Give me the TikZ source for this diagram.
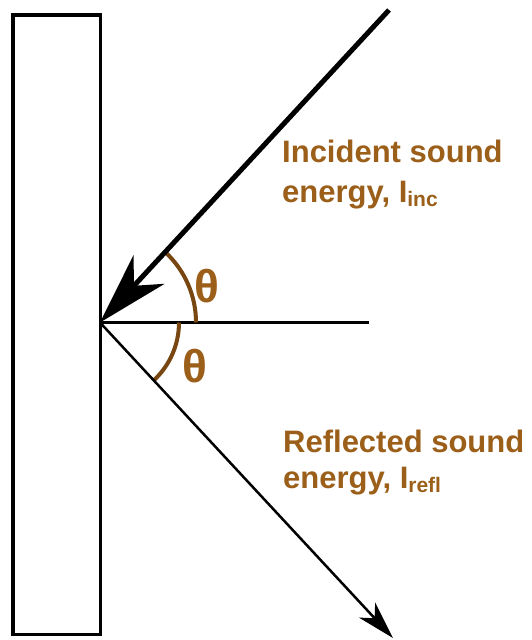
\documentclass[tikz,border=0pt]{standalone}
\usepackage{fontspec}
\setmainfont{Liberation Sans}
\usetikzlibrary{arrows.meta}
\definecolor{labelbrown}{HTML}{9B5F19}
\definecolor{arcbrown}{HTML}{784610}
\tikzset{
  wall/.style={draw=black, line width=3.5pt},
  incray/.style={draw=black, line width=5pt, -{Stealth[length=72pt,width=42pt,inset=22pt]}},
  reflray/.style={draw=black, line width=2.5pt, -{Stealth[length=38pt,width=22pt,inset=11pt]}},
  normalline/.style={draw=black, line width=3pt},
  anglearc/.style={draw=arcbrown, line width=4pt},
  lbl/.style={text=labelbrown, font=\fontsize{31}{31}\selectfont\bfseries, anchor=base west, inner sep=0pt},
  theta/.style={text=labelbrown, font=\fontsize{46}{46}\selectfont\bfseries, inner sep=0pt},
}
\newcommand{\mysub}[1]{{\fontsize{21}{21}\selectfont\raisebox{-4pt}{#1}}}
\begin{document}
\begin{tikzpicture}[x=1pt,y=1pt]
  \useasboundingbox (0,0) rectangle (532,-640);
  \fill[white] (0,0) rectangle (532,-640);
  % wall
  \draw[wall] (13,-15) rectangle (100.5,-634.5);
  % points
  \coordinate (O) at (100,-322.5);
  \coordinate (S) at (389,-10);
  \coordinate (E) at (393,-638);
  \coordinate (N) at (369,-322.5);
  % normal
  \draw[normalline] (O) -- (N);
  % arcs
  \draw[anglearc] (O) ++(0:96pt) arc[start angle=0,end angle=47,radius=96pt];
  \draw[anglearc] (O) ++(0:79pt) arc[start angle=0,end angle=-47,radius=79pt];
  % rays
  \draw[incray] (S) -- (O);
  \draw[reflray] (O) -- (E);
  % thetas
  \node[theta] (th1) at (206.5,-286) {θ};
  \node[theta] (th2) at (194.5,-366.5) {θ};
  % labels
  \node[lbl] (inc1) at (282,-162) {Incident sound};
  \node[lbl] (inc2) at (282,-202) {energy, I\mysub{inc}};
  \node[lbl] (ref1) at (283,-452) {Reflected sound};
  \node[lbl] (ref2) at (283,-488) {energy, I\mysub{refl}};
\end{tikzpicture}
\end{document}
